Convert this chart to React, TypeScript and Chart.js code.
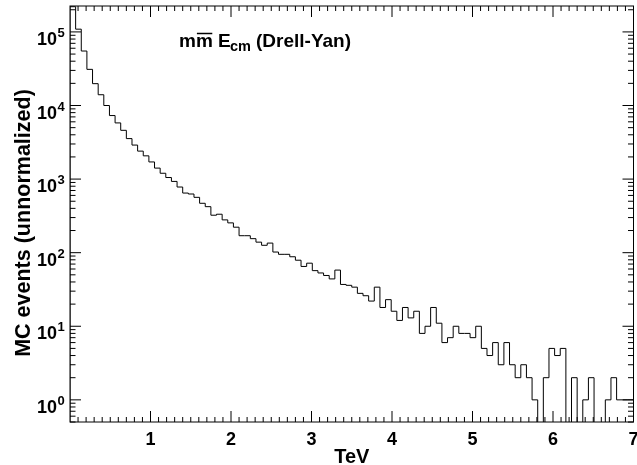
import React, { useEffect, useRef } from 'react';
import { Chart, registerables } from 'chart.js';

Chart.register(...registerables);

// ---- data ----
const BIN_START = 0; // TeV, lower edge of first bin
const BIN_WIDTH = 0.07; // TeV
const X_MIN = 0;
const X_MAX = 7;
const Y_MIN = 0.5;
const Y_MAX = 2.25e5;

// MC event counts per bin (100 bins, 0-7 TeV)
const COUNTS = [
  220000, 109000, 55000, 31000, 19800, 14000, 10000, 7300, 5800, 4600,
  3550, 2900, 2400, 2070, 1710, 1410, 1200, 1050, 930, 780,
  646, 627, 565, 469, 422, 323, 333, 279, 254, 222,
  170, 170, 155, 139, 126, 135, 102, 95, 95, 88,
  79, 65, 72, 57, 53, 49, 44, 58, 37, 36,
  34, 28, 26, 22, 34, 18, 23, 16, 12, 18,
  13, 16, 8, 10, 18, 11, 6, 7, 10, 8,
  8, 7, 10, 5, 4, 6, 3, 6, 3, 2,
  3, 2, 1, 0, 2, 5, 4, 5, 0, 2,
  0, 1, 2, 0, 0, 1, 2, 1, 1, 1,
];

const X_TICKS = [1, 2, 3, 4, 5, 6, 7];
const X_TICK_LABELS = ['1', '2', '3', '4', '5', '6', '7'];
const X_MINOR_STEP = 0.1;
const Y_EXPONENTS = [0, 1, 2, 3, 4, 5];
const X_TITLE = 'TeV';
const Y_TITLE = 'MC events (unnormalized)';
const TITLE_MAIN = 'mm';
const TITLE_E = 'E';
const TITLE_SUB = 'cm';
const TITLE_REST = '(Drell-Yan)';

const FONT = '"Liberation Sans", Arial, Helvetica, sans-serif';
const FLOOR = 1e-3; // stand-in for empty bins on the log axis (drawn below the frame)

const rootFramePlugin = {
  id: 'rootFrame',
  afterDatasetsDraw(chart: any) {
    const { ctx, chartArea: a, scales } = chart;
    const xs = scales.x;
    const ys = scales.y;
    ctx.save();
    ctx.strokeStyle = '#000';
    ctx.fillStyle = '#000';
    ctx.lineWidth = 1;
    // frame
    ctx.strokeRect(a.left, a.top, a.right - a.left, a.bottom - a.top);

    ctx.beginPath();
    // x ticks (bottom and top, inward)
    const nMinor = Math.round((X_MAX - X_MIN) / X_MINOR_STEP);
    for (let k = 1; k < nMinor; k++) {
      const v = X_MIN + k * X_MINOR_STEP;
      const isMajor = X_TICKS.some((t) => Math.abs(t - v) < 1e-6);
      const len = isMajor ? 11 : 5;
      const px = xs.getPixelForValue(v);
      ctx.moveTo(px, a.bottom);
      ctx.lineTo(px, a.bottom - len);
      ctx.moveTo(px, a.top);
      ctx.lineTo(px, a.top + len);
    }
    // y ticks (left and right, inward)
    for (let n = -1; n <= 5; n++) {
      for (let m = 1; m <= 9; m++) {
        const v = m * Math.pow(10, n);
        if (v < Y_MIN || v > Y_MAX) continue;
        const py = ys.getPixelForValue(v);
        const len = m === 1 ? 11 : 5.5;
        ctx.moveTo(a.left, py);
        ctx.lineTo(a.left + len, py);
        ctx.moveTo(a.right, py);
        ctx.lineTo(a.right - len, py);
      }
    }
    ctx.stroke();

    // x tick labels
    ctx.font = `bold 18px ${FONT}`;
    ctx.textAlign = 'center';
    ctx.textBaseline = 'alphabetic';
    X_TICKS.forEach((t, i) => {
      ctx.fillText(X_TICK_LABELS[i], xs.getPixelForValue(t), a.bottom + 23);
    });

    // y tick labels 10^n
    Y_EXPONENTS.forEach((n) => {
      const py = ys.getPixelForValue(Math.pow(10, n));
      ctx.font = `bold 18px ${FONT}`;
      ctx.textAlign = 'right';
      ctx.fillText('10', a.left - 13, py + 13);
      ctx.font = `bold 13px ${FONT}`;
      ctx.textAlign = 'left';
      ctx.fillText(String(n), a.left - 12.5, py + 5);
    });

    // axis titles
    ctx.font = `bold 20px ${FONT}`;
    ctx.textAlign = 'center';
    ctx.fillText(X_TITLE, (a.left + a.right) / 2, 463);

    ctx.save();
    ctx.translate(30, 223);
    ctx.rotate(-Math.PI / 2);
    ctx.font = `bold 21.5px ${FONT}`;
    ctx.textAlign = 'center';
    ctx.fillText(Y_TITLE, 0, 0);
    ctx.restore();

    // in-plot label: m m-bar E_cm (Drell-Yan)
    ctx.textAlign = 'left';
    ctx.font = `bold 19px ${FONT}`;
    ctx.fillText(TITLE_MAIN, 179, 47);
    const mW = ctx.measureText('m').width;
    const mmW = ctx.measureText(TITLE_MAIN).width;
    ctx.lineWidth = 1.5;
    ctx.beginPath();
    ctx.moveTo(179 + mmW - mW + 1, 33.5);
    ctx.lineTo(179 + mmW - 0.5, 33.5);
    ctx.stroke();
    ctx.fillText(TITLE_E, 218, 47);
    ctx.font = `bold 14.5px ${FONT}`;
    ctx.fillText(TITLE_SUB, 230, 51);
    ctx.font = `bold 19px ${FONT}`;
    ctx.fillText(TITLE_REST, 256, 47);

    ctx.restore();
  },
};

export default function App() {
  const ref = useRef<HTMLCanvasElement | null>(null);

  useEffect(() => {
    if (!ref.current) return;
    const pts: { x: number; y: number }[] = [{ x: BIN_START, y: FLOOR }];
    COUNTS.forEach((c, i) => {
      pts.push({ x: BIN_START + i * BIN_WIDTH, y: c > 0 ? c : FLOOR });
    });
    const last = COUNTS[COUNTS.length - 1];
    const end = BIN_START + COUNTS.length * BIN_WIDTH;
    pts.push({ x: end, y: last > 0 ? last : FLOOR });
    pts.push({ x: end, y: FLOOR });

    const chart = new Chart(ref.current, {
      type: 'line',
      data: {
        datasets: [
          {
            data: pts,
            stepped: true,
            borderColor: '#000',
            borderWidth: 1,
            pointRadius: 0,
            fill: false,
            tension: 0,
          },
        ],
      },
      options: {
        responsive: false,
        animation: false,
        events: [],
        layout: { padding: { left: 70, right: 3.5, top: 6, bottom: 43 } },
        plugins: { legend: { display: false }, tooltip: { enabled: false } },
        scales: {
          x: { type: 'linear', min: X_MIN, max: X_MAX, display: false },
          y: { type: 'logarithmic', min: Y_MIN, max: Y_MAX, display: false },
        },
      },
      plugins: [rootFramePlugin],
    } as any);
    return () => chart.destroy();
  }, []);

  return (
    <div style={{ position: 'fixed', left: 0, top: 0, width: 637, height: 465, background: '#fff' }}>
      <canvas ref={ref} width={637} height={465} style={{ display: 'block' }} />
    </div>
  );
}
